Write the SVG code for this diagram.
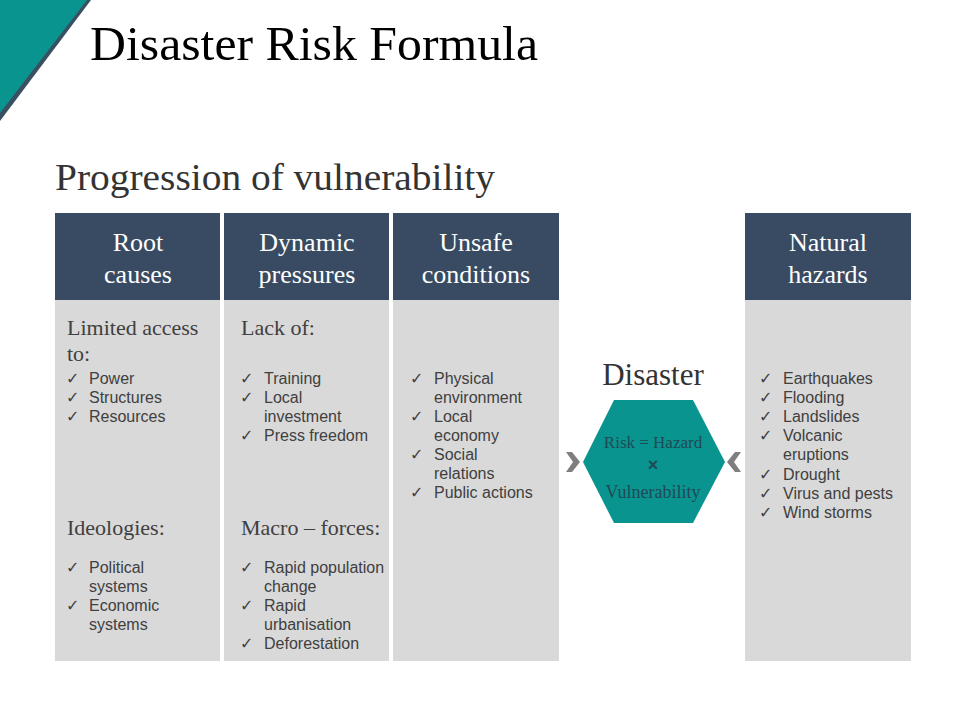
<svg xmlns="http://www.w3.org/2000/svg" width="960" height="720" viewBox="0 0 960 720">
<style>
.hdr{fill:#384b62}
.body{fill:#d9d9d9}
.ht{font-family:"Liberation Serif",serif;font-size:26px;fill:#ffffff;text-anchor:middle}
.sh{font-family:"Liberation Serif",serif;font-size:22px;fill:#404040}
.li{font-family:"Liberation Sans",Arial,sans-serif;font-size:16px;fill:#404040}
.ck{font-family:"DejaVu Sans",sans-serif;font-size:16px;fill:#404040}
.hx{font-family:"Liberation Serif",serif;fill:#1e4a55;text-anchor:middle}
</style>
<rect width="960" height="720" fill="#ffffff"/>
<g id="corner">
<polygon points="0,0 91,0 0,121" fill="#3b4f63"/>
<polygon points="0,0 87,0 0,113" fill="#0a9490"/>
</g>
<text x="90" y="60" font-family="Liberation Serif,serif" font-size="49" fill="#000" textLength="448" lengthAdjust="spacingAndGlyphs">Disaster Risk Formula</text>
<text x="55" y="190" font-family="Liberation Serif,serif" font-size="38" fill="#333333" textLength="440" lengthAdjust="spacingAndGlyphs">Progression of vulnerability</text>

<g id="root-causes">
<rect class="hdr" x="55" y="213" width="165" height="87"/>
<rect class="body" x="55" y="300" width="165" height="361"/>
<text class="ht" x="138" y="251">Root</text>
<text class="ht" x="138" y="283">causes</text>
<text class="sh" x="67" y="335">Limited access</text>
<text class="sh" x="67" y="361">to:</text>
<text class="ck" x="66" y="384">✓</text><text class="li" x="89" y="384">Power</text>
<text class="ck" x="66" y="403">✓</text><text class="li" x="89" y="403">Structures</text>
<text class="ck" x="66" y="422">✓</text><text class="li" x="89" y="422">Resources</text>
<text class="sh" x="67" y="535">Ideologies:</text>
<text class="ck" x="66" y="573">✓</text><text class="li" x="89" y="573">Political</text>
<text class="li" x="89" y="592">systems</text>
<text class="ck" x="66" y="611">✓</text><text class="li" x="89" y="611">Economic</text>
<text class="li" x="89" y="630">systems</text>
</g>

<g id="dynamic-pressures">
<rect class="hdr" x="224" y="213" width="165" height="87"/>
<rect class="body" x="224" y="300" width="165" height="361"/>
<text class="ht" x="307" y="251">Dynamic</text>
<text class="ht" x="307" y="283">pressures</text>
<text class="sh" x="241" y="335">Lack of:</text>
<text class="ck" x="240" y="384">✓</text><text class="li" x="264" y="384">Training</text>
<text class="ck" x="240" y="403">✓</text><text class="li" x="264" y="403">Local</text>
<text class="li" x="264" y="422">investment</text>
<text class="ck" x="240" y="441">✓</text><text class="li" x="264" y="441">Press freedom</text>
<text class="sh" x="241" y="535">Macro – forces:</text>
<text class="ck" x="240" y="573">✓</text><text class="li" x="264" y="573">Rapid population</text>
<text class="li" x="264" y="592">change</text>
<text class="ck" x="240" y="611">✓</text><text class="li" x="264" y="611">Rapid</text>
<text class="li" x="264" y="630">urbanisation</text>
<text class="ck" x="240" y="649">✓</text><text class="li" x="264" y="649">Deforestation</text>
</g>

<g id="unsafe-conditions">
<rect class="hdr" x="393" y="213" width="166" height="87"/>
<rect class="body" x="393" y="300" width="166" height="361"/>
<text class="ht" x="476" y="251">Unsafe</text>
<text class="ht" x="476" y="283">conditions</text>
<text class="ck" x="410" y="384">✓</text><text class="li" x="434" y="384">Physical</text>
<text class="li" x="434" y="403">environment</text>
<text class="ck" x="410" y="422">✓</text><text class="li" x="434" y="422">Local</text>
<text class="li" x="434" y="441">economy</text>
<text class="ck" x="410" y="460">✓</text><text class="li" x="434" y="460">Social</text>
<text class="li" x="434" y="479">relations</text>
<text class="ck" x="410" y="498">✓</text><text class="li" x="434" y="498">Public actions</text>
</g>

<g id="natural-hazards">
<rect class="hdr" x="745" y="213" width="166" height="87"/>
<rect class="body" x="745" y="300" width="166" height="361"/>
<text class="ht" x="828" y="251">Natural</text>
<text class="ht" x="828" y="283">hazards</text>
<text class="ck" x="759" y="384">✓</text><text class="li" x="783" y="384">Earthquakes</text>
<text class="ck" x="759" y="403">✓</text><text class="li" x="783" y="403">Flooding</text>
<text class="ck" x="759" y="422">✓</text><text class="li" x="783" y="422">Landslides</text>
<text class="ck" x="759" y="441">✓</text><text class="li" x="783" y="441">Volcanic</text>
<text class="li" x="783" y="460">eruptions</text>
<text class="ck" x="759" y="480">✓</text><text class="li" x="783" y="480">Drought</text>
<text class="ck" x="759" y="499">✓</text><text class="li" x="783" y="499">Virus and pests</text>
<text class="ck" x="759" y="518">✓</text><text class="li" x="783" y="518">Wind storms</text>
</g>

<g id="disaster">
<text x="653" y="385" font-family="Liberation Serif,serif" font-size="31" fill="#333333" text-anchor="middle">Disaster</text>
<polygon points="583,462 614,400 693,400 725,462 693,523 614,523" fill="#0a9490"/>
<text class="hx" x="653" y="448" font-size="17">Risk = Hazard</text>
<text x="653" y="471" font-family="Liberation Sans,sans-serif" font-size="18" font-weight="bold" fill="#1e4a55" text-anchor="middle">×</text>
<text class="hx" x="653" y="498" font-size="18">Vulnerability</text>
</g>

<g id="connectors">
<polygon points="566,452 572,452 580,462 572,472 566,472 573,462" fill="#7f7f7f"/>
<polygon points="741,452 735,452 727,462 735,472 741,472 734,462" fill="#7f7f7f"/>
</g>
</svg>
